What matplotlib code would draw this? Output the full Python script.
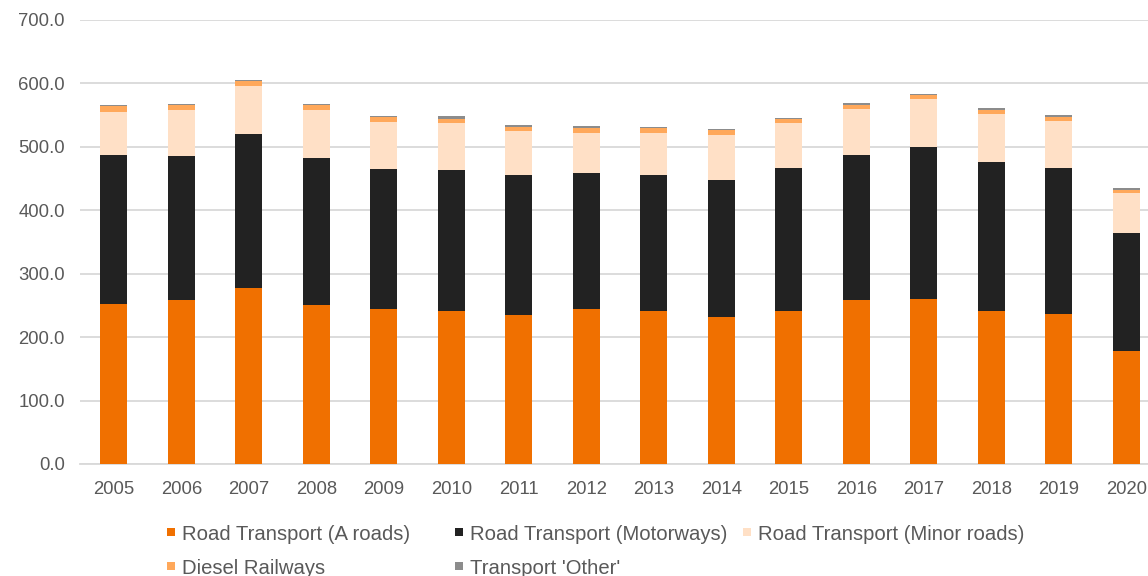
import matplotlib
matplotlib.use("Agg")
import matplotlib.pyplot as plt
from matplotlib.patches import Rectangle
import numpy as np

plt.rcParams['font.family'] = ['Liberation Sans', 'DejaVu Sans']

years = ["2005", "2006", "2007", "2008", "2009", "2010", "2011", "2012",
         "2013", "2014", "2015", "2016", "2017", "2018", "2019", "2020"]
a_roads = [253, 258, 277, 250, 244, 241, 235, 244, 241, 232, 242, 258, 260, 241, 236, 178]
motorways = [234.5, 228, 242.5, 232, 221.5, 222, 220, 214, 214, 216, 224.5, 229.5, 239, 235, 230.5, 186.5]
minor_roads = [68, 71.5, 76, 76, 74, 75, 69.5, 64.5, 67.5, 71, 70.5, 72.5, 76, 75.5, 75, 62.5]
diesel_rail = [8.3, 8.5, 8.9, 7.5, 6.9, 6.7, 6.9, 7.9, 7.4, 7.2, 6.5, 5.8, 7.4, 6.9, 6.3, 5.3]
transport_other = [1.6, 1.6, 1.6, 1.6, 1.6, 3.2, 3.2, 2.7, 1.6, 1.6, 1.6, 3.2, 1.6, 2.1, 2.6, 2.1]

series = [
    ("Road Transport (A roads)", a_roads, "#F07000"),
    ("Road Transport (Motorways)", motorways, "#222222"),
    ("Road Transport (Minor roads)", minor_roads, "#FFE0C6"),
    ("Diesel Railways", diesel_rail, "#FFA85A"),
    ("Transport 'Other'", transport_other, "#8C8C8C"),
]

W, H = 1148, 576
fig = plt.figure(figsize=(W / 100, H / 100), dpi=100)
ax = fig.add_axes([80 / W, (H - 464) / H, 1080 / W, 444 / H])

x = np.arange(len(years))
bottom = np.zeros(len(years))
for name, vals, col in series:
    v = np.array(vals, dtype=float)
    ax.bar(x, v, width=0.4, bottom=bottom, color=col, linewidth=0,
           zorder=3, label=name)
    bottom += v

ax.set_xlim(-0.5, len(years) - 0.5)
ax.set_ylim(0, 700)
ax.set_yticks(np.arange(0, 701, 100))
ax.set_yticklabels([f"{t:.1f}" for t in np.arange(0, 701, 100)])
ax.set_xticks(x)
ax.set_xticklabels(years)
ax.yaxis.grid(True, color="#D9D9D9", linewidth=1.3, zorder=0)
ax.set_axisbelow(True)
for s in ["top", "right", "left"]:
    ax.spines[s].set_visible(False)
ax.spines["bottom"].set_color("#D9D9D9")
ax.spines["bottom"].set_linewidth(1.3)
ax.tick_params(axis="both", length=0, labelsize=13.3, colors="#595959")
ax.tick_params(axis="y", pad=11)
ax.tick_params(axis="x", pad=12)

# legend (manual, Excel-style fixed columns)
col_x = [167, 455, 743]
row_y = [532, 566]
entries = [(0, 0), (1, 0), (2, 0), (0, 1), (1, 1)]
for (name, vals, col), (c, r) in zip(series, entries):
    sq = 8
    fig.patches.append(Rectangle(((col_x[c]) / W, (H - row_y[r] - sq / 2) / H),
                                 sq / W, sq / H, transform=fig.transFigure,
                                 facecolor=col, edgecolor="none"))
    fig.text((col_x[c] + 15) / W, (H - row_y[r]) / H, name, fontsize=14.6,
             color="#595959", va="center_baseline", ha="left")

fig.savefig("out.png", dpi=100)
